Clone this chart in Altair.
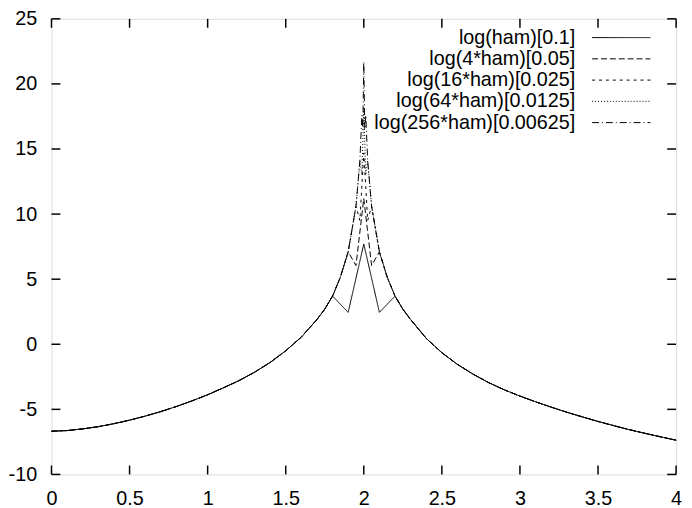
import altair as alt
import pandas as pd

# Shared envelope (where all curves coincide)
env_left_x = [0.0, 0.1, 0.2, 0.3, 0.4, 0.5, 0.6, 0.7, 0.8, 0.9, 1.0, 1.1, 1.2, 1.3, 1.4, 1.5,
              1.6, 1.7, 1.75, 1.8, 1.85, 1.9, 1.95, 1.975, 1.9875]
env_left_y = [-6.68, -6.63, -6.5, -6.33, -6.1, -5.83, -5.52, -5.17, -4.78, -4.35, -3.88, -3.35,
              -2.8, -2.15, -1.4, -0.5, 0.55, 1.9, 2.7, 3.7, 5.15, 7.1, 10.6, 14.1, 17.6]
env_right_x = [2.0125, 2.025, 2.05, 2.1, 2.15, 2.2, 2.25, 2.3, 2.4, 2.5, 2.6, 2.7, 2.8, 2.9,
               3.0, 3.1, 3.2, 3.3, 3.4, 3.5, 3.6, 3.7, 3.8, 3.9, 4.0]
env_right_y = [17.6, 14.1, 10.6, 7.1, 5.15, 3.7, 2.7, 1.9, 0.45, -0.65, -1.55, -2.3, -2.95,
               -3.5, -3.98, -4.42, -4.83, -5.22, -5.58, -5.93, -6.25, -6.56, -6.84, -7.11, -7.37]

# Per-series values near the singularity at x = 2
labels = ["log(ham)[0.1]", "log(4*ham)[0.05]", "log(16*ham)[0.025]",
          "log(64*ham)[0.0125]", "log(256*ham)[0.00625]"]
steps = [0.1, 0.05, 0.025, 0.0125, 0.00625]
dip_values = [2.45, 6.05, 9.5, 13.0, 16.5]
peak_values = [7.7, 11.2, 14.7, 18.2, 21.7]

x_ticks = [0, 0.5, 1, 1.5, 2, 2.5, 3, 3.5, 4]
y_ticks = [-10, -5, 0, 5, 10, 15, 20, 25]

dashes = [[1, 0], [6, 3], [3, 4], [1, 2], [7, 3, 1, 3]]

rows = []
env_x = env_left_x + env_right_x
env_y = env_left_y + env_right_y
for lab, h, dv, pv in zip(labels, steps, dip_values, peak_values):
    pts = [(x, y) for x, y in zip(env_x, env_y) if abs(x - 2.0) >= 2 * h - 1e-9]
    pts += [(2.0 - h, dv), (2.0, pv), (2.0 + h, dv)]
    pts.sort()
    for i, (x, y) in enumerate(pts):
        rows.append({"series": lab, "x": x, "y": y, "order": i})
df = pd.DataFrame(rows)
legend_df = pd.DataFrame({"series": labels})
xt_df = pd.DataFrame({"t": [float(v) for v in x_ticks]})
yt_df = pd.DataFrame({"t": [float(v) for v in y_ticks]})

FONT = "Liberation Sans"
FS = 20
W, H = 632, 461
XMIN, XMAX, YMIN, YMAX = 0.0, 4.0, -10.0, 25.0
TX = 9 * (XMAX - XMIN) / W   # 9 px inward tick, in x units
TY = 9 * (YMAX - YMIN) / H   # 9 px inward tick, in y units

xs = alt.Scale(domain=[XMIN, XMAX], nice=False, zero=False)
ys = alt.Scale(domain=[YMIN, YMAX], nice=False, zero=False)
dash_scale = alt.Scale(domain=labels, range=dashes)
row_scale = alt.Scale(type="point", domain=labels, range=[19, 105], padding=0)

label_common = dict(labelFont=FONT, labelFontSize=FS, labelColor="black",
                    labelFlush=False, labelOverlap=False, domain=False, grid=False,
                    ticks=False, labelExpr="toString(datum.value)")

lines = alt.Chart(df).mark_line(color="black", strokeWidth=1).encode(
    x=alt.X("x:Q", scale=xs, title=None,
            axis=alt.Axis(orient="bottom", values=x_ticks, labelPadding=14, **label_common)),
    y=alt.Y("y:Q", scale=ys, title=None,
            axis=alt.Axis(orient="left", values=y_ticks, labelPadding=15, **label_common)),
    strokeDash=alt.StrokeDash("series:N", scale=dash_scale, legend=None),
    order="order:Q",
)

# gnuplot-style inward ticks on all four sides
xt = alt.Chart(xt_df).mark_rule(color="black", strokeWidth=1.5, opacity=1)
x_bottom = xt.encode(x=alt.X("t:Q"), y=alt.datum(YMIN), y2=alt.datum(YMIN + TY))
x_top = xt.encode(x=alt.X("t:Q"), y=alt.datum(YMAX), y2=alt.datum(YMAX - TY))
yt = alt.Chart(yt_df).mark_rule(color="black", strokeWidth=1.5, opacity=1)
y_left = yt.encode(y=alt.Y("t:Q"), x=alt.datum(XMIN), x2=alt.datum(XMIN + TX))
y_right = yt.encode(y=alt.Y("t:Q"), x=alt.datum(XMAX), x2=alt.datum(XMAX - TX))

plot = alt.layer(lines, x_bottom, x_top, y_left, y_right)

leg_text = alt.Chart(legend_df).mark_text(
    align="right", baseline="middle", font=FONT, fontSize=FS, color="black"
).encode(
    x=alt.value(530),
    y=alt.Y("series:N", scale=row_scale, axis=None),
    text="series:N",
)

leg_line = alt.Chart(legend_df).mark_rule(color="black", strokeWidth=1).encode(
    x=alt.value(547), x2=alt.value(606),
    y=alt.Y("series:N", scale=row_scale, axis=None),
    strokeDash=alt.StrokeDash("series:N", scale=dash_scale, legend=None),
)

chart = alt.layer(plot, leg_text, leg_line).resolve_scale(
    y="independent"
).properties(
    width=W, height=H,
    autosize=alt.AutoSizeParams(type="none"),
    padding={"left": 44, "top": 8, "right": 8, "bottom": 31},
).configure_view(stroke="black", strokeWidth=1.5).configure(background="white")

chart.save("out.html", embed_options={"renderer": "svg", "actions": False})
